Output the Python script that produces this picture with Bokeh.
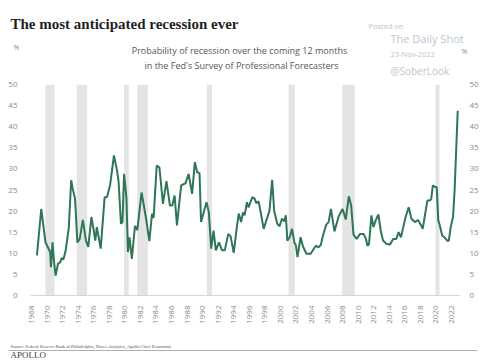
from bokeh.plotting import figure
from bokeh.layouts import column
from bokeh.models import Range1d, FixedTicker, LinearAxis, Label, ColumnDataSource
from bokeh.embed import file_html
from bokeh.resources import INLINE
import math

# ---- data ----
years = [1968.7, 1969.25, 1969.8, 1970.4, 1970.5, 1970.7, 1970.9, 1971.1, 1971.4, 1971.7,
         1971.9, 1972.1, 1972.4, 1972.8, 1973.1, 1973.3, 1973.6, 1973.9, 1974.2, 1974.6,
         1975.0, 1975.3, 1975.7, 1976.0, 1976.2, 1976.4, 1976.9, 1977.4, 1977.7, 1978.1,
         1978.6, 1979.0, 1979.2, 1979.5, 1979.7, 1979.9, 1980.2, 1980.4, 1980.6, 1980.9,
         1981.3, 1981.6, 1982.15, 1982.7, 1983.15, 1983.5, 1983.7, 1984.1, 1984.45, 1984.9,
         1985.35, 1985.8, 1986.1, 1986.4, 1986.7, 1987.24, 1987.8, 1988.2, 1988.65, 1989.0,
         1989.3, 1989.6, 1989.8, 1990.5, 1990.8, 1991.1, 1991.4, 1991.7, 1992.1, 1992.5,
         1992.85, 1993.3, 1993.6, 1994.0, 1994.4, 1994.65, 1994.95, 1995.2, 1995.4, 1995.7,
         1995.9, 1996.4, 1996.7, 1996.9, 1997.2, 1997.5, 1997.85, 1998.2, 1998.6, 1998.94,
         1999.2, 1999.6, 1999.9, 2000.2, 2000.5, 2000.7, 2000.9, 2001.2, 2001.5, 2001.8,
         2002.0, 2002.2, 2002.6, 2002.9, 2003.35, 2003.9, 2004.3, 2004.6, 2004.9, 2005.2,
         2005.5, 2005.9, 2006.2, 2006.5, 2006.95, 2007.5, 2008.0, 2008.4, 2008.8, 2009.1,
         2009.4, 2009.8, 2010.25, 2010.7, 2011.0, 2011.2, 2011.4, 2011.7, 2011.96, 2012.25,
         2012.6, 2012.9, 2013.2, 2013.66, 2014.1, 2014.5, 2014.9, 2015.2, 2015.5, 2015.8,
         2016.1, 2016.5, 2016.85, 2017.3, 2017.7, 2018.1, 2018.3, 2018.55, 2018.9, 2019.2,
         2019.4, 2019.6, 2019.9, 2020.1, 2020.3, 2020.5, 2020.8, 2021.1, 2021.45, 2021.66,
         2021.9, 2022.2, 2022.4, 2022.8]
probability = [9.5, 20.5, 12.6, 10.3, 6.7, 12.6, 7.9, 4.7, 7.5, 7.9,
               8.9, 8.5, 10.7, 16.2, 27.3, 25.3, 22.9, 12.6, 13.4, 17.9,
               13.0, 11.5, 18.6, 15.4, 13.0, 16.2, 11.1, 23.3, 23.3, 26.1,
               33.2, 29.6, 26.9, 17.0, 17.4, 28.8, 23.3, 10.3, 13.8, 8.7,
               16.5, 15.5, 24.4, 18.6, 12.9, 19.4, 18.4, 30.8, 30.3, 21.7,
               27.1, 21.3, 21.3, 23.7, 16.6, 26.1, 26.6, 28.8, 24.1, 31.6,
               29.2, 29.0, 17.4, 22.1, 19.7, 11.1, 15.4, 10.7, 12.6, 10.7,
               10.7, 14.6, 14.0, 10.1, 16.2, 19.4, 17.4, 19.7, 19.0, 22.1,
               20.9, 23.3, 22.9, 21.9, 22.3, 19.4, 15.8, 17.8, 20.1, 27.4,
               20.1, 17.0, 16.4, 18.2, 17.6, 19.0, 13.0, 13.8, 15.8, 12.6,
               11.8, 9.1, 13.8, 11.6, 9.9, 9.9, 11.1, 11.8, 11.4, 12.0,
               14.4, 16.8, 17.4, 20.5, 15.2, 18.8, 20.5, 18.0, 23.5, 21.3,
               14.4, 13.4, 14.6, 14.6, 13.4, 11.8, 12.2, 19.0, 16.2, 17.8,
               19.2, 15.4, 13.0, 12.2, 12.1, 13.4, 13.4, 15.0, 13.8, 16.2,
               18.6, 20.9, 18.2, 17.4, 17.9, 16.6, 15.8, 18.6, 22.5, 22.5,
               22.9, 26.1, 25.7, 25.7, 17.8, 16.6, 14.2, 13.8, 13.0, 13.0,
               16.2, 18.6, 24.9, 43.8]
recession_start = [1969.8, 1973.8, 1979.9, 1981.6, 1990.55, 2001.05, 2007.95, 2019.95]
recession_end = [1970.95, 1975.15, 1980.5, 1982.95, 1991.2, 2001.85, 2009.55, 2020.45]
x_ticks = list(range(1968, 2023, 2))
y_ticks = list(range(0, 51, 5))

TITLE = "The most anticipated recession ever"
SUBTITLE_1 = "Probability of recession over the coming 12 months"
SUBTITLE_2 = "in the Fed's Survey of Professional Forecasters"
SOURCE = "Source: Federal Reserve Bank of Philadelphia, Haver Analytics, Apollo Chief Economist"

W = 485
lab_font = "Open Sans"
lab_col = "#8a8a8a"


def blank_fig(h):
    f = figure(width=W, height=h, output_backend="svg", toolbar_location=None,
               x_range=Range1d(0, W), y_range=Range1d(h, 0),
               min_border=0, min_border_left=0, min_border_right=0,
               min_border_top=0, min_border_bottom=0)
    f.axis.visible = False
    f.grid.visible = False
    f.outline_line_color = None
    f.background_fill_color = "white"
    f.border_fill_color = "white"
    return f


def lab(f, text, x, y, size, color, font=lab_font, style="normal", align="left", base="middle"):
    f.add_layout(Label(x=x, y=y, text=text, text_font=font, text_font_size=size,
                       text_color=color, text_font_style=style, text_align=align,
                       text_baseline=base))


# ---- header ----
HEAD_H = 78
head = blank_fig(HEAD_H)
lab(head, TITLE, 10, 23, "15px", "#1f1f1f", font="Liberation Serif", style="bold", base="alphabetic")
lab(head, "%", 16, 47, "7px", "#888888", align="center")
lab(head, "%", 464, 51, "7px", "#888888", align="center")
lab(head, SUBTITLE_1, 239, 50, "9px", "#555555", align="center")
lab(head, SUBTITLE_2, 241, 65, "9px", "#555555", align="center")
lab(head, "Posted on", 368, 25, "7.5px", "#c4c4c4")
lab(head, "The Daily Shot", 390, 38, "11px", "#bcc5d0")
lab(head, "23-Nov-2022", 390, 53, "7.5px", "#c4c4c4")
lab(head, "@SoberLook", 390, 70.5, "10px", "#bcc5d0")

# ---- main chart ----
p = figure(width=W, height=262, output_backend="svg", toolbar_location=None,
           x_range=Range1d(1967.87, 2023.03), y_range=Range1d(0, 50),
           min_border_left=30, min_border_right=26, min_border_top=6, min_border_bottom=45)
p.outline_line_color = None
p.grid.visible = False
p.background_fill_color = "white"
p.border_fill_color = "white"

rec = ColumnDataSource(dict(left=recession_start, right=recession_end,
                            bottom=[0] * len(recession_start), top=[50] * len(recession_start)))
p.quad(left="left", right="right", bottom="bottom", top="top", source=rec,
       fill_color="#e4e4e4", line_color=None)
p.line(years, probability, line_color="#2e7656", line_width=2)

xa = p.xaxis[0]
xa.ticker = FixedTicker(ticks=x_ticks)
xa.major_label_orientation = math.pi / 2
xa.axis_line_color = "#d6d6d6"
xa.major_tick_line_color = None
xa.minor_tick_line_color = None
xa.major_label_text_font = lab_font
xa.major_label_text_font_size = "8px"
xa.major_label_text_color = lab_col
xa.major_label_standoff = 4

ra = LinearAxis()
for ax, standoff in ((p.yaxis[0], 7), (ra, 4)):
    ax.ticker = FixedTicker(ticks=y_ticks)
    ax.axis_line_color = None
    ax.major_tick_line_color = None
    ax.minor_tick_line_color = None
    ax.major_label_text_font = lab_font
    ax.major_label_text_font_size = "8px"
    ax.major_label_text_color = lab_col
    ax.major_label_standoff = standoff
p.add_layout(ra, "right")

# ---- footer ----
foot = blank_fig(20)
lab(foot, SOURCE, 10, 6, "4.5px", "#555555", font="Liberation Serif")
foot.segment(x0=[8], y0=[10], x1=[477], y1=[10], line_color="#b0b0b0", line_width=1)
lab(foot, "APOLLO", 10, 19.8, "9px", "#3a3a3a", font="Liberation Serif", base="bottom")

# wrap each piece so the column does not align the plot frames
layout = column(column(head), column(p), column(foot), spacing=0)
open("out.html", "w").write(file_html(layout, INLINE))
